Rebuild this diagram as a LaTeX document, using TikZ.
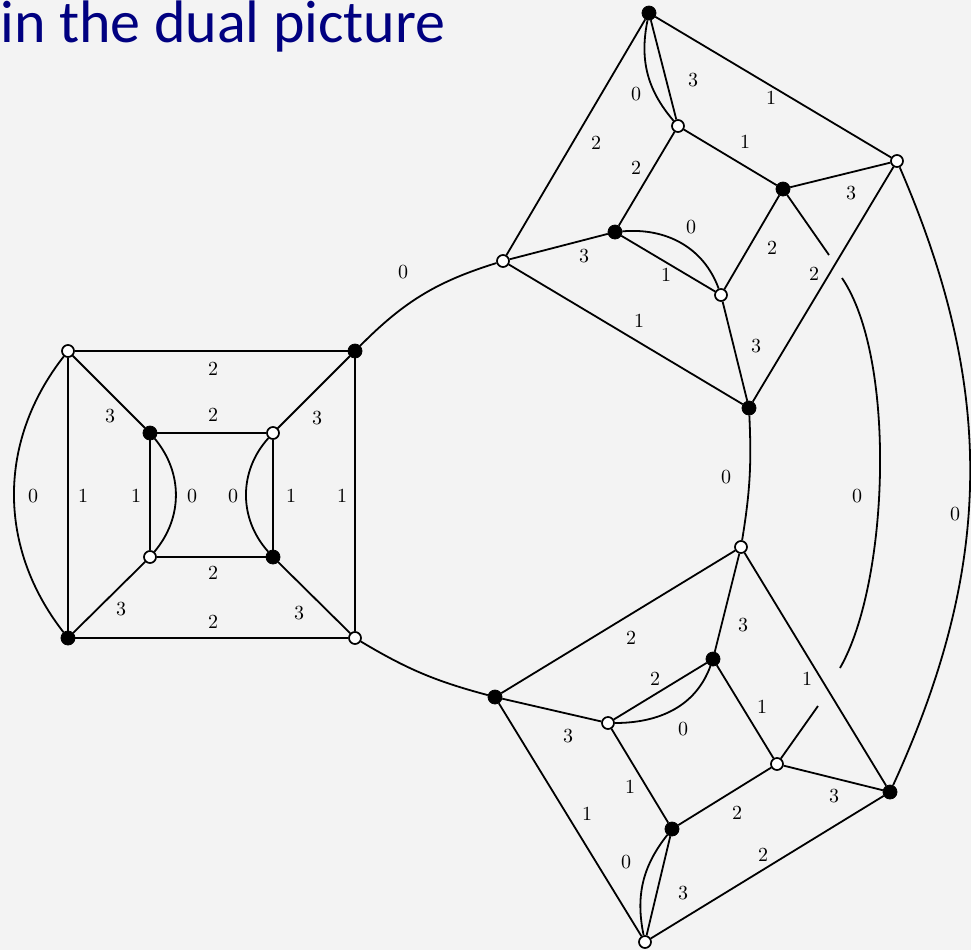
\documentclass[tikz,border=0pt]{standalone}
\usepackage{fontspec}
\newfontfamily\titlefont{Carlito}
\usepackage{tikz}
\usetikzlibrary{calc,positioning}

\definecolor{slidebg}{HTML}{F3F3F3}
\definecolor{slidenavy}{RGB}{0,0,128}

\begin{document}
\begin{tikzpicture}[
    x=0.5pt, y=0.5pt,
    blackv/.style={circle,fill=black,draw=black,inner sep=0pt,minimum size=7pt},
    whitev/.style={circle,fill=white,draw=black,line width=0.85pt,inner sep=0pt,minimum size=6pt},
    dedge/.style={line width=0.9pt},
    lab/.style={inner sep=0pt,font=\normalsize}
]

% Background and title
\useasboundingbox (0,0) rectangle (971,-950);
\fill[slidebg] (0,0) rectangle (971,-950);
\node[anchor=base west,inner sep=0pt,text=slidenavy,
      font=\titlefont\fontsize{30}{36}\selectfont] (title) at (0,-42)
    {in the dual picture};

% ===== Left gadget =====
\node[whitev] (Ltl) at (68,-351) {};
\node[blackv] (Ltr) at (355,-351) {};
\node[blackv] (Lbl) at (68,-638) {};
\node[whitev] (Lbr) at (355,-638) {};

\node[blackv] (Itl) at (150,-433) {};
\node[whitev] (Itr) at (273,-433) {};
\node[whitev] (Ibl) at (150,-557) {};
\node[blackv] (Ibr) at (273,-557) {};

\draw[dedge] (Ltl) -- (Ltr) (Lbl) -- (Lbr) (Ltl) -- (Lbl) (Ltr) -- (Lbr);
\draw[dedge] (Ltl) to[bend right=38] (Lbl);
\draw[dedge] (Itl) -- (Itr) (Ibl) -- (Ibr) (Itl) -- (Ibl) (Itr) -- (Ibr);
\draw[dedge] (Itl) to[bend left=40] (Ibl);
\draw[dedge] (Itr) to[bend right=42] (Ibr);
\draw[dedge] (Ltl) -- (Itl) (Ltr) -- (Itr) (Lbl) -- (Ibl) (Lbr) -- (Ibr);

% ===== Upper gadget =====
\node[blackv] (Ua) at (649,-13) {};
\node[whitev] (Ub) at (503,-261) {};
\node[whitev] (Uc) at (897,-161) {};
\node[blackv] (Ud) at (749,-408) {};

\node[whitev] (Ue) at (678,-126) {};
\node[blackv] (Uf) at (783,-189) {};
\node[blackv] (Ug) at (615,-232) {};
\node[whitev] (Uh) at (721,-295) {};

\draw[dedge] (Ua) -- (Ub) (Ua) -- (Uc) (Ub) -- (Ud) (Uc) -- (Ud);
\draw[dedge] (Ue) -- (Uf) (Ue) -- (Ug) (Uf) -- (Uh) (Ug) -- (Uh);
\draw[dedge] (Ua) -- (Ue) (Ub) -- (Ug) (Uc) -- (Uf) (Ud) -- (Uh);
\draw[dedge] (Ua) to[bend right=26] (Ue);
\draw[dedge] (Ug) to[out=5,in=110] (Uh);

% ===== Lower gadget =====
\node[whitev] (Dp) at (741,-547) {};
\node[blackv] (Dq) at (495,-697) {};
\node[blackv] (Dr) at (890,-792) {};
\node[whitev] (Ds) at (645,-942) {};

\node[blackv] (Dt) at (713,-659) {};
\node[whitev] (Du) at (608,-723) {};
\node[whitev] (Dv) at (777,-764) {};
\node[blackv] (Dw) at (672,-829) {};

\draw[dedge] (Dp) -- (Dq) (Dp) -- (Dr) (Dq) -- (Ds) (Dr) -- (Ds);
\draw[dedge] (Dt) -- (Du) (Dt) -- (Dv) (Du) -- (Dw) (Dv) -- (Dw);
\draw[dedge] (Dp) -- (Dt) (Dq) -- (Du) (Dr) -- (Dv) (Ds) -- (Dw);
\draw[dedge] (Du) to[out=0,in=-110] (Dt);
\draw[dedge] (Ds) to[bend left=25] (Dw);

% ===== Connecting 0-edges =====
\draw[dedge] (Ltr) to[bend left=14] (Ub);
\draw[dedge] (Ud) to[bend left=6] (Dp);
\draw[dedge] (Lbr) to[bend right=8] (Dq);
\draw[dedge] (Uc) to[bend left=24] (Dr);

% 0-edge passing under two edges
\coordinate (cut1) at (829,-255);
\coordinate (cut2) at (842,-278);
\coordinate (cut3) at (840,-668);
\coordinate (cut4) at (818,-706);
\draw[dedge] (Uf) -- (cut1);
\draw[dedge] (cut2) .. controls (897,-359) and (889,-583) .. (cut3);
\draw[dedge] (cut4) -- (Dv);

% ===== Labels: left gadget =====
\node[lab] (l01) at (213,-369) {2};
\node[lab] (l02) at (213,-415) {2};
\node[lab] (l03) at (110,-416) {3};
\node[lab] (l04) at (317,-418) {3};
\node[lab] (l05) at (33,-496) {0};
\node[lab] (l06) at (83,-496) {1};
\node[lab] (l07) at (136,-496) {1};
\node[lab] (l08) at (192,-496) {0};
\node[lab] (l09) at (233,-496) {0};
\node[lab] (l10) at (291,-496) {1};
\node[lab] (l11) at (342,-496) {1};
\node[lab] (l12) at (213,-573) {2};
\node[lab] (l13) at (121,-609) {3};
\node[lab] (l14) at (213,-622) {2};
\node[lab] (l15) at (299,-613) {3};

% ===== Labels: connecting edges =====
\node[lab] (r01) at (403,-272) {0};
\node[lab] (r02) at (726,-477) {0};
\node[lab] (r03) at (857,-496) {0};
\node[lab] (r04) at (955,-514) {0};

% ===== Labels: upper gadget =====
\node[lab] (u01) at (693,-80) {3};
\node[lab] (u02) at (636,-94) {0};
\node[lab] (u03) at (771,-98) {1};
\node[lab] (u04) at (596,-143) {2};
\node[lab] (u05) at (745,-142) {1};
\node[lab] (u06) at (636,-168) {2};
\node[lab] (u07) at (851,-193) {3};
\node[lab] (u08) at (691,-227) {0};
\node[lab] (u09) at (772,-248) {2};
\node[lab] (u10) at (584,-256) {3};
\node[lab] (u11) at (814,-274) {2};
\node[lab] (u12) at (666,-275) {1};
\node[lab] (u13) at (639,-321) {1};
\node[lab] (u14) at (756,-346) {3};

% ===== Labels: lower gadget =====
\node[lab] (d01) at (631,-638) {2};
\node[lab] (d02) at (743,-625) {3};
\node[lab] (d03) at (655,-679) {2};
\node[lab] (d04) at (807,-679) {1};
\node[lab] (d05) at (762,-707) {1};
\node[lab] (d06) at (683,-729) {0};
\node[lab] (d07) at (568,-736) {3};
\node[lab] (d08) at (630,-787) {1};
\node[lab] (d09) at (587,-814) {1};
\node[lab] (d10) at (737,-813) {2};
\node[lab] (d11) at (834,-796) {3};
\node[lab] (d12) at (626,-862) {0};
\node[lab] (d13) at (763,-855) {2};
\node[lab] (d14) at (683,-893) {3};

\end{tikzpicture}
\end{document}
